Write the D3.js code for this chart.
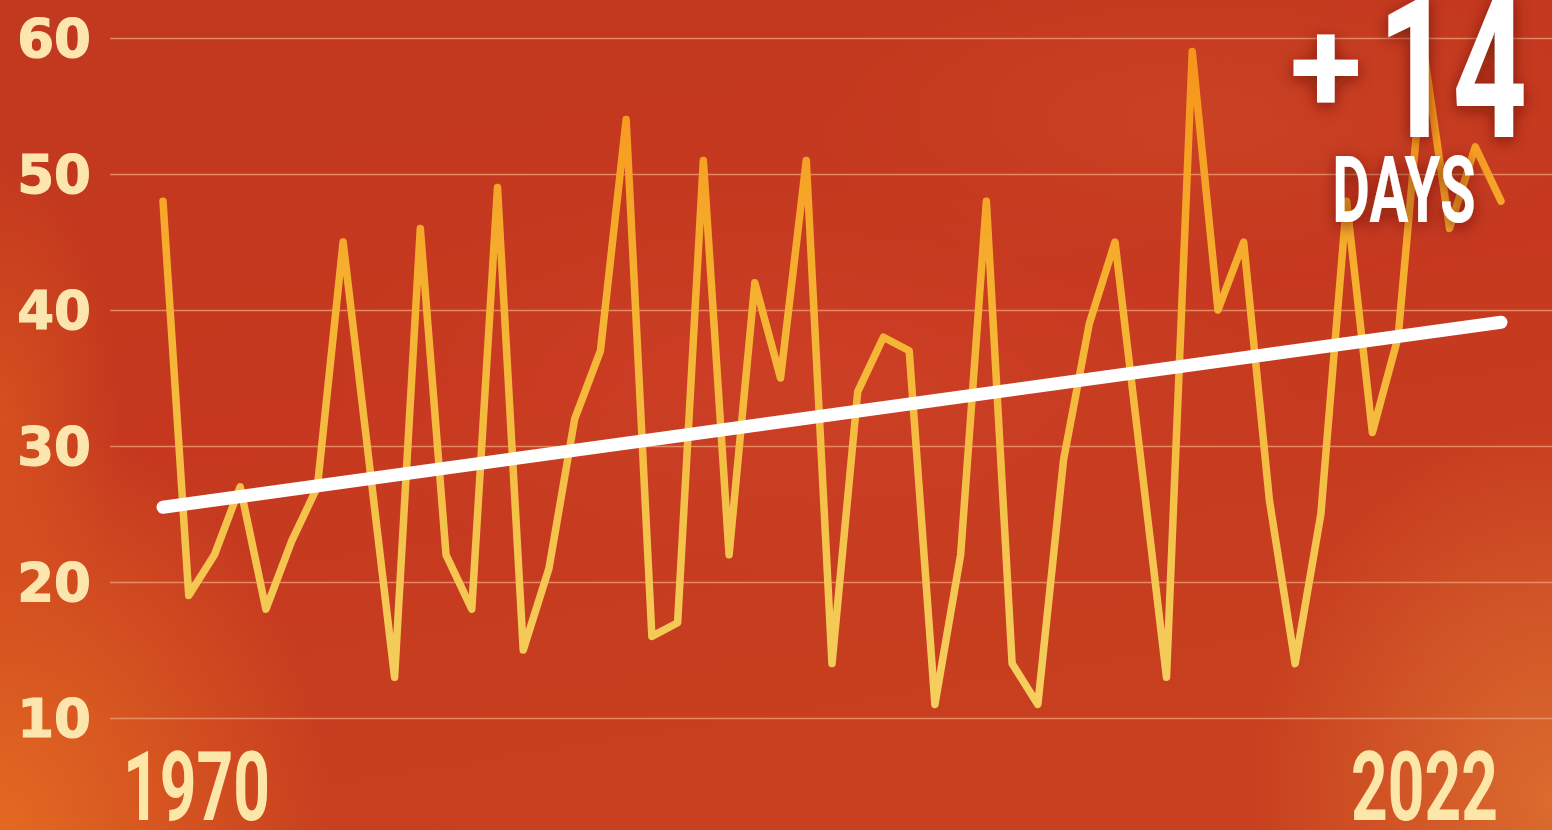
<!DOCTYPE html>
<html>
<head>
<meta charset="utf-8">
<script src="https://cdn.jsdelivr.net/npm/d3@7"></script>
<style>
  html, body { margin: 0; padding: 0; overflow: hidden; background: #c4381e; }
  svg { display: block; }
</style>
</head>
<body>
<div id="chart"></div>
<script>
// Data
const years = [1970, 1971, 1972, 1973, 1974, 1975, 1976, 1977, 1978, 1979,
  1980, 1981, 1982, 1983, 1984, 1985, 1986, 1987, 1988, 1989,
  1990, 1991, 1992, 1993, 1994, 1995, 1996, 1997, 1998, 1999,
  2000, 2001, 2002, 2003, 2004, 2005, 2006, 2007, 2008, 2009,
  2010, 2011, 2012, 2013, 2014, 2015, 2016, 2017, 2018, 2019,
  2020, 2021, 2022];
const days = [48, 19, 22, 27, 18, 23, 27, 45, 29, 13,
  46, 22, 18, 49, 15, 21, 32, 37, 54, 16,
  17, 51, 22, 42, 35, 51, 14, 34, 38, 37,
  11, 22, 48, 14, 11, 29, 39, 45, 29, 13,
  59, 40, 45, 26, 14, 25, 48, 31, 38, 59,
  46, 52, 48];
const trendYears = [1970, 2022];
const trendDays = [25.5, 39.1];
const yTicks = [10, 20, 30, 40, 50, 60];
const yearLabels = ["1970", "2022"];
const changeLabel = "+14";
const unitLabel = "DAYS";

const W = 1552, H = 830;

const svg = d3.select("#chart").append("svg")
  .attr("width", W)
  .attr("height", H);

const defs = svg.append("defs");

// background glows
function radial(id, stops) {
  const g = defs.append("radialGradient").attr("id", id);
  stops.forEach(s => g.append("stop").attr("offset", s[0]).attr("stop-color", s[1]).attr("stop-opacity", s[2]));
}
radial("glowBL", [[0, "#e56c22", 0.95], [1, "#e56c22", 0]]);
radial("glowBR", [[0, "#dd7030", 0.9], [1, "#dd7030", 0]]);
radial("glowL", [[0, "#d9561f", 0.8], [1, "#d9561f", 0]]);
radial("glowMid", [[0, "#d2452a", 0.55], [1, "#d2452a", 0]]);
radial("glowTR", [[0, "#cf4a28", 0.5], [1, "#cf4a28", 0]]);

const bgGrad = defs.append("linearGradient").attr("id", "bg")
  .attr("x1", 0).attr("y1", 0).attr("x2", 0.3).attr("y2", 1);
bgGrad.append("stop").attr("offset", 0).attr("stop-color", "#c1391e");
bgGrad.append("stop").attr("offset", 0.5).attr("stop-color", "#c5381f");
bgGrad.append("stop").attr("offset", 1).attr("stop-color", "#c8401f");

svg.append("rect").attr("width", W).attr("height", H).attr("fill", "url(#bg)");
svg.append("ellipse").attr("cx", 0).attr("cy", 830).attr("rx", 330).attr("ry", 420).attr("fill", "url(#glowBL)");
svg.append("ellipse").attr("cx", 0).attr("cy", 420).attr("rx", 120).attr("ry", 260).attr("fill", "url(#glowL)");
svg.append("ellipse").attr("cx", 1552).attr("cy", 800).attr("rx", 300).attr("ry", 380).attr("fill", "url(#glowBR)");
svg.append("ellipse").attr("cx", 800).attr("cy", 380).attr("rx", 500).attr("ry", 200).attr("fill", "url(#glowMid)");
svg.append("ellipse").attr("cx", 1200).attr("cy", 120).attr("rx", 400).attr("ry", 160).attr("fill", "url(#glowTR)");

// line colour gradient
const lineGrad = defs.append("linearGradient").attr("id", "lineGrad")
  .attr("gradientUnits", "userSpaceOnUse")
  .attr("x1", 0).attr("y1", 38).attr("x2", 0).attr("y2", 718);
lineGrad.append("stop").attr("offset", 0).attr("stop-color", "#f7921a");
lineGrad.append("stop").attr("offset", 0.4).attr("stop-color", "#f5b332");
lineGrad.append("stop").attr("offset", 1).attr("stop-color", "#f4d061");

// text shadow
const shadow = defs.append("filter").attr("id", "shadow")
  .attr("x", "-30%").attr("y", "-30%").attr("width", "160%").attr("height", "160%");
shadow.append("feDropShadow").attr("dx", 0).attr("dy", 4).attr("stdDeviation", 8)
  .attr("flood-color", "#5a0e05").attr("flood-opacity", 0.65);

// scales
const x = d3.scaleLinear().domain([1970, 2022]).range([163, 1501]);
const y = d3.scaleLinear().domain([10, 60]).range([718, 38]);

// gridlines
svg.append("g")
  .attr("transform", "translate(110,0)")
  .call(d3.axisLeft(y).tickValues(yTicks).tickSize(-(W - 110)).tickFormat(""))
  .call(g => g.select(".domain").remove())
  .call(g => g.selectAll(".tick line")
    .attr("stroke", "#f0a27a")
    .attr("stroke-opacity", 0.75)
    .attr("stroke-width", 1.5));

// y labels
svg.append("g")
  .selectAll("text")
  .data(yTicks)
  .join("text")
  .attr("x", 91)
  .attr("y", d => y(d) + 19)
  .attr("text-anchor", "end")
  .attr("fill", "#fde5ae")
  .attr("stroke", "#fde5ae")
  .attr("stroke-width", 1.2)
  .style("font-family", "DejaVu Sans")
  .style("font-weight", "bold")
  .style("font-size", "53px")
  .text(d => d);

// data line
const data = years.map((yr, i) => ({ year: yr, days: days[i] }));
const line = d3.line()
  .x(d => x(d.year))
  .y(d => y(d.days));

svg.append("path")
  .datum(data)
  .attr("d", line)
  .attr("fill", "none")
  .attr("stroke", "url(#lineGrad)")
  .attr("stroke-width", 7.5)
  .attr("stroke-linejoin", "round")
  .attr("stroke-linecap", "round");

// trend line
const trend = trendYears.map((yr, i) => ({ year: yr, days: trendDays[i] }));
svg.append("path")
  .datum(trend)
  .attr("d", line)
  .attr("fill", "none")
  .attr("stroke", "#ffffff")
  .attr("stroke-width", 13)
  .attr("stroke-linecap", "round");

// year labels
const yearText = svg.append("g")
  .style("font-family", "Roboto")
  .style("font-weight", "bold")
  .style("font-size", "97px")
  .attr("fill", "#fde7a8");

yearText.append("text")
  .attr("transform", `translate(${x(1970) - 40},820) scale(0.66,1)`)
  .attr("text-anchor", "start")
  .text(yearLabels[0]);

yearText.append("text")
  .attr("transform", `translate(${x(2022) - 3},820) scale(0.66,1)`)
  .attr("text-anchor", "end")
  .text(yearLabels[1]);

// +14 DAYS callout
const callout = svg.append("g")
  .attr("filter", "url(#shadow)")
  .attr("fill", "#ffffff")
  .style("font-family", "Roboto")
  .style("font-weight", "bold");

callout.append("text")
  .attr("x", 1326)
  .attr("y", 112)
  .attr("text-anchor", "middle")
  .style("font-size", "132px")
  .text(changeLabel.slice(0, 1));

callout.append("text")
  .attr("transform", "translate(1527,137) scale(0.65,1)")
  .attr("text-anchor", "end")
  .style("font-size", "200px")
  .text(changeLabel.slice(1));

callout.append("text")
  .attr("transform", "translate(1404,222) scale(0.63,1)")
  .attr("text-anchor", "middle")
  .style("font-size", "92px")
  .text(unitLabel);
</script>
</body>
</html>
